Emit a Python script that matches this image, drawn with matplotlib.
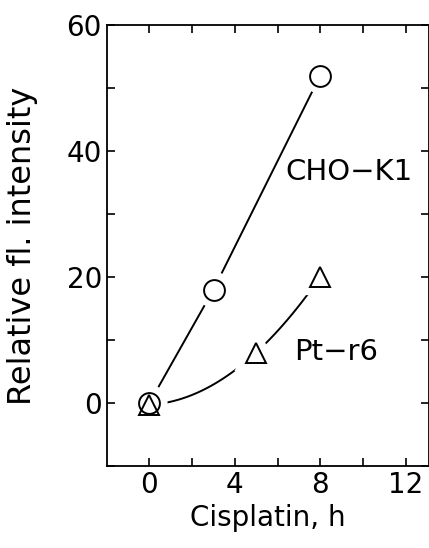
import numpy as np
import matplotlib
matplotlib.use("Agg")
import matplotlib.pyplot as plt
import matplotlib.patheffects as pe

# Data
cho_time = [0, 3, 8]
cho_int = [0, 18, 52]
pt_time = [0, 5, 8]
pt_int = [-0.3, 8, 20]

x_ticks = [0, 4, 8, 12]
y_ticks = [0, 20, 40, 60]

plt.rcParams['font.family'] = 'DejaVu Sans'

fig = plt.figure(figsize=(4.29, 5.48), dpi=100)
ax = fig.add_axes([0.249, 0.150, 0.751, 0.804])

# lines (straight for CHO-K1, smooth curve through the Pt-r6 points)
ax.plot(cho_time, cho_int, color='black', lw=1.4, zorder=2)
coef = np.polyfit(pt_time, pt_int, 2)
xs = np.linspace(pt_time[0], pt_time[-1], 100)
ax.plot(xs, np.polyval(coef, xs), color='black', lw=1.4, zorder=2)

# white halos break the lines near the markers
halo = [pe.Stroke(linewidth=11, foreground='white')]
ax.plot(cho_time, cho_int, 'o', ms=15, mfc='white', mec='white',
        ls='none', zorder=3, path_effects=halo)
ax.plot(pt_time, pt_int, '^', ms=15, mfc='white', mec='white',
        ls='none', zorder=3, path_effects=halo)

ax.plot(cho_time, cho_int, 'o', ms=15, mfc='none', mec='black', mew=1.4,
        ls='none', zorder=4)
ax.plot(pt_time, pt_int, '^', ms=15, mfc='none', mec='black', mew=1.4,
        ls='none', zorder=4)

ax.text(6.35, 36.6, 'CHO\u2212K1', fontsize=21, ha='left', va='center')
ax.text(6.8, 8.1, 'Pt\u2212r6', fontsize=21, ha='left', va='center')

ax.set_xlim(-2, 13.1)
ax.set_ylim(-10, 60)
ax.set_xticks(x_ticks)
ax.set_xticks(np.arange(0, 13, 2), minor=True)
ax.set_yticks(y_ticks)
ax.set_yticks(np.arange(-10, 61, 10), minor=True)
ax.tick_params(which='both', direction='in', top=True, right=True,
               length=6, width=1.2, labelsize=20)
for s in ax.spines.values():
    s.set_linewidth(1.3)

ax.set_xlabel('Cisplatin, h', fontsize=20)
ax.set_ylabel('Relative fl. intensity', fontsize=23)
ax.yaxis.set_label_coords(-0.215, 0.5)

fig.savefig('out.png', dpi=100)
